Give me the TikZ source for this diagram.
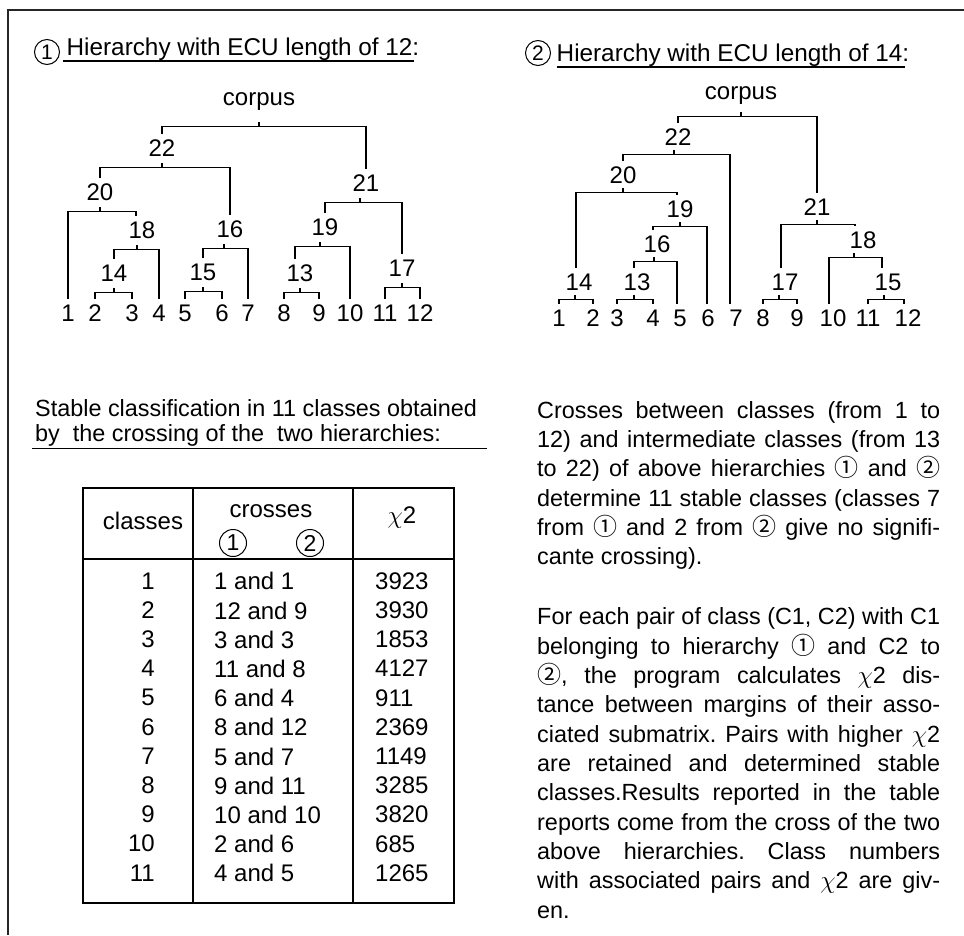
\documentclass[tikz,border=0pt]{standalone}
\usepackage{fontspec}
\setmainfont{Liberation Sans}
\newfontfamily\circfont{Noto Sans CJK SC}
\usetikzlibrary{positioning}
\newcommand{\cone}{{\circfont\fontsize{24}{24}\selectfont ①}}
\newcommand{\ctwo}{{\circfont\fontsize{24}{24}\selectfont ②}}

\tikzset{
  frame/.style={line width=1.8pt, black!85},
  dend/.style={line width=1.3pt},
  tbl/.style={line width=1.4pt},
  uline/.style={line width=1.2pt},
  lbl/.style={inner sep=5pt, text height=17.2pt, text depth=0pt, font=\fontsize{24}{24}\selectfont},
  title/.style={anchor=base west, inner sep=0pt, font=\fontsize{24.3}{24.3}\selectfont},
  cnum/.style={draw, circle, line width=1pt, minimum size=25pt, inner sep=0pt, font=\fontsize{21}{21}\selectfont},
  hdr/.style={anchor=base, inner sep=0pt, font=\fontsize{24}{24}\selectfont},
  col/.style={inner sep=0pt, font=\fontsize{24}{29.2}\selectfont},
  para/.style={anchor=north west, inner sep=0pt, text width=403pt, align=justify, font=\fontsize{23.4}{29.35}\selectfont\frenchspacing}
}

\begin{document}
\begin{tikzpicture}[x=1pt,y=-1pt]
\useasboundingbox (0,0) rectangle (964,935);
\draw[frame] (8,935) -- (8,10) -- (964,10);

% hierarchy 1
\node[cnum] (h1) at (47,52) {1};
\node[title] (h1t) at (66.5,55) {Hierarchy with ECU length of 12:};
\draw[uline] ([xshift=-3.5pt,yshift=-6pt]h1t.base west) -- ([xshift=-5pt,yshift=-6pt]h1t.base east);

\node[lbl] (t1c) at (259,97) {corpus};
\node[lbl] (t1n22) at (162,148) {22};
\node[lbl] (t1n21) at (366,183) {21};
\node[lbl] (t1n20) at (100,192) {20};
\node[lbl] (t1n18) at (142,230) {18};
\node[lbl] (t1n16) at (230,229) {16};
\node[lbl] (t1n19) at (325,227) {19};
\node[lbl] (t1n17) at (402,268) {17};
\node[lbl] (t1n14) at (114,273) {14};
\node[lbl] (t1n15) at (203,272) {15};
\node[lbl] (t1n13) at (300,273) {13};
\node[lbl] (t1l1) at (68,313) {1};
\node[lbl] (t1l2) at (95,313) {2};
\node[lbl] (t1l3) at (132,313) {3};
\node[lbl] (t1l4) at (159,313) {4};
\node[lbl] (t1l5) at (185,313) {5};
\node[lbl] (t1l6) at (222,313) {6};
\node[lbl] (t1l7) at (248,313) {7};
\node[lbl] (t1l8) at (284,313) {8};
\node[lbl] (t1l9) at (319,313) {9};
\node[lbl] (t1l10) at (350,313) {10};
\node[lbl] (t1l11) at (385,313) {11};
\node[lbl] (t1l12) at (420,313) {12};

\draw[dend] (t1n22.north) |- ([yshift=-16pt]t1c.south) -| (t1n21.north) ([yshift=-16pt]t1c.south) -- ++(0,-5);
\draw[dend] (t1n20.north) |- ([yshift=-6pt]t1n22.south) -| (t1n16.north) ([yshift=-6pt]t1n22.south) -- ++(0,-5);
\draw[dend] (t1l1.north) |- ([yshift=-6pt]t1n20.south) -| ([xshift=-6pt]t1n18.north) ([yshift=-6pt]t1n20.south) -- ++(0,-5);
\draw[dend] (t1n14.north) |- ([xshift=-5pt,yshift=-6pt]t1n18.south) -| (t1l4.north) ([xshift=-5pt,yshift=-6pt]t1n18.south) -- ++(0,-5);
\draw[dend] (t1l2.north) |- ([yshift=-6pt]t1n14.south) -| (t1l3.north) ([yshift=-6pt]t1n14.south) -- ++(0,-5);
\draw[dend] (t1n15.north) |- ([xshift=-6pt,yshift=-6pt]t1n16.south) -| (t1l7.north) ([xshift=-6pt,yshift=-6pt]t1n16.south) -- ++(0,-5);
\draw[dend] (t1l5.north) |- ([yshift=-6pt]t1n15.south) -| (t1l6.north) ([yshift=-6pt]t1n15.south) -- ++(0,-5);
\draw[dend] (t1n19.north) |- ([xshift=-6pt,yshift=-6pt]t1n21.south) -| (t1n17.north) ([xshift=-6pt,yshift=-6pt]t1n21.south) -- ++(0,-5);
\draw[dend] ([xshift=-5pt]t1n13.north) |- ([xshift=-5pt,yshift=-6pt]t1n19.south) -| (t1l10.north) ([xshift=-5pt,yshift=-6pt]t1n19.south) -- ++(0,-5);
\draw[dend] (t1l8.north) |- ([yshift=-6pt]t1n13.south) -| (t1l9.north) ([yshift=-6pt]t1n13.south) -- ++(0,-5);
\draw[dend] (t1l11.north) |- ([yshift=-6pt]t1n17.south) -| (t1l12.north) ([yshift=-6pt]t1n17.south) -- ++(0,-5);

% hierarchy 2
\node[cnum] (h2) at (538,53) {2};
\node[title] (h2t) at (556.5,61) {Hierarchy with ECU length of 14:};
\draw[uline] ([yshift=-6pt]h2t.base west) -- ([xshift=-4.5pt,yshift=-6pt]h2t.base east);

\node[lbl] (t2c) at (741,91) {corpus};
\node[lbl] (t2n22) at (678,137) {22};
\node[lbl] (t2n20) at (623,175) {20};
\node[lbl] (t2n19) at (680,209) {19};
\node[lbl] (t2n16) at (657,244) {16};
\node[lbl] (t2n14) at (579,282) {14};
\node[lbl] (t2n13) at (637,282) {13};
\node[lbl] (t2n21) at (817,207) {21};
\node[lbl] (t2n18) at (863,240) {18};
\node[lbl] (t2n17) at (785,282) {17};
\node[lbl] (t2n15) at (888,282) {15};
\node[lbl] (t2l1) at (559,318) {1};
\node[lbl] (t2l2) at (593,318) {2};
\node[lbl] (t2l3) at (617,318) {3};
\node[lbl] (t2l4) at (653,318) {4};
\node[lbl] (t2l5) at (680,318) {5};
\node[lbl] (t2l6) at (708,318) {6};
\node[lbl] (t2l7) at (736,318) {7};
\node[lbl] (t2l8) at (763,318) {8};
\node[lbl] (t2l9) at (797,318) {9};
\node[lbl] (t2l10) at (833,318) {10};
\node[lbl] (t2l11) at (868,318) {11};
\node[lbl] (t2l12) at (908,318) {12};

\draw[dend] (t2n22.north) |- ([yshift=-12pt]t2c.south) -| (t2n21.north) ([yshift=-12pt]t2c.south) -- ++(0,-5);
\draw[dend] (t2n20.north) |- ([xshift=-4pt,yshift=-4pt]t2n22.south) -| ([xshift=-6pt]t2l7.north) ([xshift=-4pt,yshift=-4pt]t2n22.south) -- ++(0,-5);
\draw[dend] ([xshift=-3pt]t2n14.north) |- ([yshift=-4pt]t2n20.south) -| ([xshift=-3pt]t2n19.north) ([yshift=-4pt]t2n20.south) -- ++(0,-5);
\draw[dend] (t2l1.north) |- ([xshift=-4pt,yshift=-4pt]t2n14.south) -| (t2l2.north) ([xshift=-4pt,yshift=-4pt]t2n14.south) -- ++(0,-5);
\draw[dend] ([xshift=-4pt]t2n16.north) |- ([yshift=-4pt]t2n19.south) -| ([xshift=-1pt]t2l6.north) ([yshift=-4pt]t2n19.south) -- ++(0,-5);
\draw[dend] ([xshift=-3pt]t2n13.north) |- ([xshift=-3pt,yshift=-4pt]t2n16.south) -| ([xshift=-3pt]t2l5.north) ([xshift=-3pt,yshift=-4pt]t2n16.south) -- ++(0,-5);
\draw[dend] (t2l3.north) |- ([xshift=-3pt,yshift=-4pt]t2n13.south) -| (t2l4.north) ([xshift=-3pt,yshift=-4pt]t2n13.south) -- ++(0,-5);
\draw[dend] ([xshift=-4pt]t2n17.north) |- ([yshift=-4pt]t2n21.south) -| ([xshift=-8pt]t2n18.north) ([yshift=-4pt]t2n21.south) -- ++(0,-5);
\draw[dend] (t2l8.north) |- ([xshift=-6pt,yshift=-4pt]t2n17.south) -| (t2l9.north) ([xshift=-6pt,yshift=-4pt]t2n17.south) -- ++(0,-5);
\draw[dend] ([xshift=-4pt]t2l10.north) |- ([xshift=-9pt,yshift=-4pt]t2n18.south) -| ([xshift=-6pt]t2n15.north) ([xshift=-9pt,yshift=-4pt]t2n18.south) -- ++(0,-5);
\draw[dend] (t2l11.north) |- ([xshift=-4pt,yshift=-4pt]t2n15.south) -| ([xshift=-4pt]t2l12.north) ([xshift=-4pt,yshift=-4pt]t2n15.south) -- ++(0,-5);

% stable classification
\node[anchor=north west, inner sep=0pt, align=left, font=\fontsize{23.4}{25}\selectfont] (stab) at (35,399)
  {Stable classification in 11 classes obtained\\by\ \ the crossing of the\ \ two hierarchies:};
\draw[uline] ([xshift=-3pt,yshift=-2pt]stab.south west) -- ([xshift=10pt,yshift=-2pt]stab.south east);

% table
\draw[tbl] (83,488) rectangle (454,903);
\draw[tbl] (193,488) -- (193,903);
\draw[tbl] (353,488) -- (353,903);
\draw[tbl] (83,559) -- (454,559);
\node[hdr] (hcls) at (143,529) {classes};
\node[hdr] (hcrs) at (271,517) {crosses};
\node[cnum, minimum size=27pt, font=\fontsize{23}{23}\selectfont] (hc1) at (233,543) {1};
\node[cnum, minimum size=27pt, font=\fontsize{23}{23}\selectfont] (hc2) at (310,543) {2};
\node[hdr] (hchi) at (402,523) {$\chi$2};
\node[col, anchor=north east, align=right] (ccls) at (155,572.3)
  {1\\2\\3\\4\\5\\6\\7\\8\\9\\10\\11};
\node[col, anchor=north west, align=left] (ccrs) at (214,572.3)
  {1 and 1\\12 and 9\\3 and 3\\11 and 8\\6 and 4\\8 and 12\\5 and 7\\9 and 11\\10 and 10\\2 and 6\\4 and 5};
\node[col, anchor=north west, align=left] (cchi) at (375,572.3)
  {3923\\3930\\1853\\4127\\911\\2369\\1149\\3285\\3820\\685\\1265};

% comments on the right
\node[para] (txt1) at (537,401) {\tolerance=10000\hbadness=10000
  Crosses between classes (from 1 to\linebreak
  12) and intermediate classes (from 13\linebreak
  to 22) of above hierarchies \cone{} and \ctwo\linebreak
  determine 11 stable classes (classes 7\linebreak
  from \cone{}\ and 2 from \ctwo{} give no signifi-\linebreak
  cante crossing).};
\node[para] (txt2) at (537,607.5) {\tolerance=10000\hbadness=10000
  For each pair of class (C1, C2) with C1\linebreak
  belonging to hierarchy \cone{} and C2 to\linebreak
  \ctwo, the program calculates $\chi$2 dis-\linebreak
  tance between margins of their asso-\linebreak
  ciated submatrix. Pairs with higher $\chi$2\linebreak
  are retained and determined stable\linebreak
  classes.Results reported in the table\linebreak
  reports come from the cross of the two\linebreak
  above hierarchies. Class numbers\linebreak
  with associated pairs and $\chi$2 are giv-\linebreak
  en.};
\end{tikzpicture}
\end{document}
